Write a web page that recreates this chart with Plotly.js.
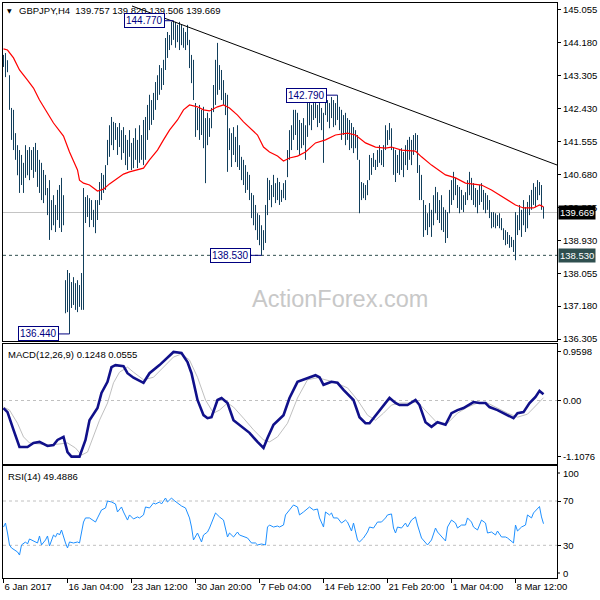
<!DOCTYPE html>
<html><head><meta charset="utf-8">
<script src="https://cdn.plot.ly/plotly-3.0.1.min.js"></script>
<style>html,body{margin:0;padding:0;background:#fff}#chart{width:600px;height:600px}</style>
</head><body><div id="chart"></div>
<script>
// ---------- DATA (GBPJPY H4) ----------
const barHigh = [
143.86,143.91,143.72,143.32,142.45,142.40,141.78,141.46,141.33,141.20,
140.99,141.46,141.33,141.41,141.33,141.41,141.52,141.33,141.07,140.99,
140.80,140.67,140.32,140.53,140.00,140.13,139.87,140.27,140.40,140.59,
140.13,137.87,138.14,138.06,137.82,137.95,137.79,137.87,137.74,138.06,
140.32,140.08,140.13,140.05,140.00,139.74,140.00,140.00,140.48,140.72,
140.67,140.93,141.60,141.99,142.21,142.08,142.05,141.94,142.05,141.86,
141.94,141.73,141.60,141.86,141.52,141.65,141.91,141.60,141.99,141.73,
142.13,142.21,142.53,142.80,142.66,142.85,143.14,143.32,143.59,143.51,
143.73,144.31,144.47,144.39,144.74,144.77,144.74,144.66,144.74,144.66,
144.58,144.47,144.66,144.26,143.86,143.73,142.58,142.45,142.53,142.40,
142.48,142.18,142.32,142.18,142.45,143.06,143.73,144.18,143.59,143.46,
143.19,142.85,142.80,141.91,141.78,141.94,141.68,141.99,141.46,141.15,
141.07,140.93,140.75,140.67,140.19,140.13,139.87,139.65,139.60,139.33,
139.20,139.87,140.59,140.53,140.40,140.67,140.45,140.59,140.48,140.27,
140.45,140.53,141.33,141.86,141.99,142.40,142.40,142.32,142.13,142.05,
142.18,141.99,142.66,142.58,142.53,142.58,142.66,142.53,142.58,142.45,
142.32,142.72,142.66,142.58,142.74,142.66,142.58,142.79,142.48,142.40,
142.26,142.32,142.18,142.13,142.05,141.94,141.86,141.73,141.07,140.48,
140.45,140.40,140.53,141.20,141.12,141.25,141.07,141.33,141.46,141.33,
141.46,141.99,141.86,142.05,141.91,141.41,141.33,141.20,141.33,141.38,
141.28,141.46,141.60,141.68,141.60,141.73,141.78,141.73,140.93,140.67,
140.00,139.87,139.65,139.92,139.74,140.13,140.35,140.21,140.00,140.13,
139.81,139.74,139.68,140.27,140.53,140.75,140.59,140.40,140.35,140.27,
140.13,140.21,140.53,140.75,140.59,140.45,140.32,140.27,140.40,140.45,
140.27,140.19,140.13,140.00,139.68,139.68,139.65,139.60,139.65,139.52,
139.25,139.20,139.15,139.07,139.02,138.94,139.68,139.60,139.87,139.74,
140.00,139.81,139.95,140.13,140.27,140.45,140.35,140.53,140.48,140.40,
139.820];
const barLow = [
143.54,143.27,143.40,142.40,141.60,141.33,141.07,140.66,140.19,140.40,
140.19,140.59,140.66,140.53,140.80,140.59,140.75,140.35,140.19,140.00,
139.92,140.13,139.60,138.94,139.20,139.33,139.15,139.47,139.26,139.15,
139.33,136.99,137.02,136.44,137.13,137.21,137.08,137.02,137.16,137.08,
137.08,139.39,139.55,139.28,139.47,139.28,139.12,139.47,139.87,140.00,
140.19,140.27,140.93,141.15,141.46,141.33,141.60,141.20,141.41,141.07,
141.25,140.93,140.80,141.15,140.80,140.85,141.07,140.85,140.99,141.07,
140.93,141.07,141.60,141.86,142.00,142.13,142.40,142.66,142.80,142.93,
143.06,143.46,143.78,143.99,144.12,144.26,144.05,144.20,143.99,144.12,
144.05,143.99,144.12,143.51,143.11,142.66,141.68,141.86,141.60,141.73,
141.38,140.45,141.46,141.68,141.91,142.34,142.53,142.80,142.93,142.66,
142.53,142.26,140.75,141.33,140.88,141.20,141.01,140.88,140.80,140.53,
140.40,140.19,140.27,140.00,139.52,139.33,139.20,138.94,138.80,138.53,
138.67,138.86,139.60,140.00,139.81,140.08,139.92,140.00,139.87,139.95,
140.05,140.00,140.61,141.07,141.33,141.60,141.73,141.33,141.20,141.38,
141.46,141.07,141.68,141.99,141.86,142.13,142.18,141.94,142.05,141.86,
140.99,142.26,142.08,141.91,142.18,141.94,141.99,142.13,141.86,141.60,
141.73,141.46,141.60,141.33,141.38,141.25,141.38,141.07,139.65,140.00,
140.05,140.00,140.13,140.53,140.67,140.88,140.80,140.88,140.99,140.93,
140.88,141.33,141.46,141.60,141.33,140.67,140.48,140.72,140.67,140.80,
140.61,140.93,140.80,141.07,140.93,141.20,141.33,140.72,140.00,140.00,
139.02,139.20,139.07,139.28,139.02,139.33,139.65,139.47,139.39,139.20,
139.15,138.86,138.99,139.65,139.87,140.00,140.13,139.79,139.65,139.74,
139.68,139.87,140.00,140.13,140.00,139.87,139.81,139.65,139.87,139.95,
139.74,139.65,139.74,139.52,139.25,139.28,139.25,139.31,139.25,139.20,
138.94,138.80,138.83,138.73,138.75,138.62,138.40,139.07,139.20,139.02,
139.33,139.15,139.25,139.60,139.74,139.87,139.81,140.00,140.13,139.74,
139.506];
const lastOHLC = [139.757, 139.820, 139.506, 139.669];

const maIdx = [0,2,5,8,12,15,18,22,25,30,33,37,38,40,43,47,50,53,57,60,63,67,70,73,77,80,83,87,90,93,97,100,103,107,110,113,117,120,123,127,130,133,137,140,143,147,151,156,161,166,172,176,181,186,191,194,199,206,209,214,221,226,231,239,244,251,256,260,265,268,270];
const maVal = [144.02,143.99,143.78,143.46,143.19,142.98,142.66,142.32,142.05,141.70,141.28,140.80,140.53,140.45,140.40,140.24,140.29,140.43,140.59,140.69,140.75,140.80,140.85,141.07,141.33,141.60,141.86,142.13,142.40,142.53,142.48,142.40,142.37,142.48,142.53,142.45,142.26,142.08,141.92,141.73,141.41,141.28,141.17,141.04,141.12,141.17,141.28,141.52,141.60,141.73,141.78,141.73,141.52,141.41,141.38,141.41,141.33,141.30,141.15,140.93,140.67,140.59,140.45,140.40,140.27,140.05,139.87,139.79,139.79,139.87,139.82];

const trendIdx = [64.25, 276.75];
const trendVal = [145.161, 140.933];
const supportLevel = 138.530;

const markIdx = [85, 167, 129, 33];
const markVal = [144.770, 142.790, 138.530, 136.440];
const markShift = [-29, -31, -31, -31];

const macdIdx = [0,2,5,8,12,15,18,22,25,27,30,32,34,38,41,43,47,49,52,54,56,60,62,65,70,73,78,82,85,89,92,94,97,100,102,104,107,109,112,115,118,123,127,130,132,135,140,143,147,152,156,158,160,164,167,170,175,178,181,183,185,189,193,196,198,202,206,208,211,214,217,221,224,227,230,235,238,241,243,247,250,255,257,260,263,266,268,270];
const macdVal = [-0.15,-0.23,-0.58,-0.92,-0.92,-0.84,-0.82,-0.90,-0.88,-0.78,-0.72,-1.02,-1.11,-1.11,-0.78,-0.39,-0.15,0.15,0.37,0.66,0.70,0.68,0.54,0.45,0.35,0.54,0.70,0.86,0.96,0.94,0.76,0.54,0.01,-0.29,-0.35,-0.33,0.01,0.05,-0.05,-0.39,-0.48,-0.64,-0.82,-0.94,-0.74,-0.48,-0.29,0.05,0.37,0.45,0.50,0.46,0.31,0.37,0.35,0.21,0.01,-0.33,-0.45,-0.45,-0.35,-0.15,0.05,-0.05,-0.09,-0.09,0.01,-0.09,-0.43,-0.52,-0.43,-0.48,-0.25,-0.19,-0.15,-0.03,-0.05,-0.05,-0.13,-0.19,-0.25,-0.35,-0.25,-0.23,-0.05,0.07,0.19,0.1248];
const sigIdx = [0,3,7,10,13,18,23,28,32,36,39,42,45,48,52,55,58,62,65,70,75,80,85,89,93,97,101,105,108,112,115,120,125,130,133,137,142,147,150,152,157,165,172,177,182,186,190,194,198,203,207,212,217,222,227,232,237,242,247,252,257,262,265,270];
const sigVal = [-0.13,-0.19,-0.45,-0.72,-0.84,-0.86,-0.88,-0.86,-0.84,-0.94,-1.08,-1.02,-0.72,-0.39,-0.05,0.35,0.56,0.66,0.56,0.41,0.46,0.66,0.86,0.92,0.80,0.46,0.01,-0.25,-0.19,-0.05,-0.13,-0.35,-0.58,-0.78,-0.82,-0.72,-0.45,0.05,0.28,0.41,0.45,0.37,0.25,0.01,-0.29,-0.39,-0.25,-0.09,-0.05,-0.05,-0.03,-0.25,-0.45,-0.45,-0.25,-0.13,-0.05,-0.05,-0.15,-0.25,-0.33,-0.27,-0.15,0.0555];
const macdTicks = [0.9598, 0, -1.1076];
const macdTickText = ['0.9598', '0.00', '-1.1076'];

const rsiIdx = [0,1,2,3,4,6,7,8,9,11,12,13,14,16,17,18,19,21,22,23,25,26,27,28,29,31,32,33,35,37,38,40,41,43,46,47,49,51,52,54,56,57,59,60,62,63,65,67,68,70,71,73,75,76,78,79,81,82,84,85,87,89,91,93,94,95,97,98,99,100,102,103,105,106,108,110,112,113,115,117,118,121,122,124,126,127,129,131,132,133,135,137,138,140,141,143,145,147,148,150,152,153,155,157,158,160,161,163,164,165,167,169,171,172,174,175,177,178,180,182,183,185,187,189,191,192,194,195,196,197,199,201,202,204,206,207,209,211,212,214,216,217,219,221,222,224,226,227,229,231,232,234,235,237,239,241,242,244,246,247,249,251,252,254,255,256,257,259,261,262,264,265,267,268,269,270];
const rsiVal = [46.5,50.1,41.1,30.3,27.6,24.9,24.0,21.2,30.3,33.0,31.2,35.7,34.8,33.0,32.1,38.4,30.3,34.8,38.4,29.4,39.3,37.5,41.1,39.3,43.8,32.1,27.6,33.0,32.1,33.0,32.1,51.0,54.7,54.7,51.0,54.7,61.9,63.7,70.0,69.1,67.3,60.1,64.6,60.1,52.8,57.4,53.8,55.6,54.7,57.4,64.6,63.7,68.2,67.3,69.1,67.3,72.7,69.1,72.7,70.9,68.2,65.5,63.7,54.7,46.5,34.8,41.1,37.5,33.0,39.3,42.0,45.6,54.7,59.2,55.6,52.8,37.5,41.1,37.5,42.0,39.3,37.5,36.6,32.1,32.1,30.3,31.2,30.3,46.5,48.3,46.5,47.4,46.5,48.3,57.4,61.9,66.4,64.6,57.4,60.1,63.7,64.6,61.9,62.8,54.7,46.5,60.1,57.4,59.2,54.7,54.7,50.1,52.8,51.0,42.9,50.1,34.8,33.0,36.6,42.0,46.5,45.6,51.0,51.0,54.7,57.4,58.3,45.6,41.1,46.5,45.6,50.1,46.5,52.8,55.6,48.3,36.6,33.0,30.3,34.8,45.6,42.0,37.5,33.9,46.5,52.8,50.1,45.6,48.3,48.3,54.7,51.0,46.5,43.8,52.8,50.1,41.1,42.0,39.3,42.9,37.5,37.5,36.6,33.0,32.1,48.3,42.9,46.5,48.3,57.4,54.7,59.2,63.7,65.0,55.6,49.4886];
const rsiLevels = [70, 30];

const priceTicks = [145.055,144.180,143.305,142.430,141.555,140.680,139.805,138.930,138.055,137.180,136.305];
const dateTickIdx = [0,32,64,96,128,160,192,224,256];
const dateTickText = ['6 Jan 2017','16 Jan 04:00','23 Jan 12:00','30 Jan 20:00','7 Feb 04:00','14 Feb 12:00','21 Feb 20:00','1 Mar 04:00','8 Mar 12:00'];

// ---------- BUILD ----------
const F = 'Liberation Sans, Arial, sans-serif';
const FS = 9.5;
const P = v => v / 600;          // px -> paper x
const PY = v => 1 - v / 600;     // px -> paper y

const barX = [], barY = [];
barHigh.forEach((h, i) => { barX.push(i, i, null); barY.push(barLow[i], h, null); });

const traces = [
  {type:'scatter', mode:'lines', x:barX, y:barY, xaxis:'x', yaxis:'y', line:{color:'#123f5c', width:1}, hoverinfo:'skip'},
  {type:'scatter', mode:'lines', x:maIdx, y:maVal, xaxis:'x', yaxis:'y', line:{color:'#ff0000', width:1.2}},
  {type:'scatter', mode:'lines', x:trendIdx, y:trendVal, xaxis:'x', yaxis:'y', line:{color:'#000000', width:1}},
  {type:'scatter', mode:'lines', x:sigIdx, y:sigVal, xaxis:'x2', yaxis:'y2', line:{color:'#c0c0c0', width:1}},
  {type:'scatter', mode:'lines', x:macdIdx, y:macdVal, xaxis:'x2', yaxis:'y2', line:{color:'#10108a', width:2.6}},
  {type:'scatter', mode:'lines', x:rsiIdx, y:rsiVal, xaxis:'x3', yaxis:'y3', line:{color:'#1e90ff', width:1}}
];

const XR = [-0.25, 276.75];
const XD = [P(3), P(557)];
const baseX = {domain:XD, range:XR, showline:true, mirror:true, linecolor:'#000', linewidth:1,
  showgrid:false, zeroline:false, showticklabels:false, ticks:''};
const baseY = {side:'right', showline:true, mirror:true, linecolor:'#000', linewidth:1, showgrid:false,
  zeroline:false, ticks:'outside', ticklen:3, tickcolor:'#000', tickwidth:1,
  tickfont:{family:F, size:FS, color:'#000'}};

const layout = {
  width:600, height:600, margin:{l:0, r:0, t:0, b:0},
  paper_bgcolor:'#fff', plot_bgcolor:'#fff', showlegend:false, hovermode:false,
  font:{family:F, size:FS, color:'#000'},
  xaxis: Object.assign({}, baseX, {anchor:'y'}),
  xaxis2: Object.assign({}, baseX, {anchor:'y2', matches:'x'}),
  xaxis3: Object.assign({}, baseX, {anchor:'y3', matches:'x', showticklabels:true, ticks:'outside', ticklen:4,
    tickcolor:'#000', tickvals:dateTickIdx, ticktext:dateTickText, ticklabelposition:'outside right',
    tickangle:0, tickfont:{family:F, size:FS, color:'#000'}}),
  yaxis: Object.assign({}, baseY, {anchor:'x', domain:[PY(341), PY(3)], range:[136.252, 145.241],
    tickvals:priceTicks, ticktext:priceTicks.map(v => v.toFixed(3))}),
  yaxis2: Object.assign({}, baseY, {anchor:'x2', domain:[PY(464), PY(344)], range:[-1.2562, 1.1177],
    tickvals:macdTicks, ticktext:macdTickText}),
  yaxis3: Object.assign({}, baseY, {anchor:'x3', domain:[PY(578), PY(466)], range:[0.47, 101.6],
    tickvals:rsiLevels, ticktext:rsiLevels.map(String)}),
  shapes: [
    {type:'line', xref:'x domain', yref:'y', x0:0, x1:1, y0:lastOHLC[3], y1:lastOHLC[3], layer:'below', line:{color:'#c4c4c4', width:1.2}},
    {type:'line', xref:'x domain', yref:'y', x0:0, x1:1, y0:supportLevel, y1:supportLevel, layer:'below', line:{color:'#2f4f4f', width:1, dash:'3px,3px'}},
    {type:'line', xref:'x2 domain', yref:'y2', x0:0, x1:1, y0:0, y1:0, layer:'below', line:{color:'#c0c0c0', width:1, dash:'3px,3px'}},
    ...rsiLevels.map(v => ({type:'line', xref:'x3 domain', yref:'y3', x0:0, x1:1, y0:v, y1:v, layer:'below', line:{color:'#c0c0c0', width:1, dash:'3px,3px'}})),
    {type:'line', xref:'paper', yref:'paper', x0:P(557), x1:P(560), y0:PY(473), y1:PY(473), line:{color:'#000', width:1}},
    {type:'line', xref:'paper', yref:'paper', x0:P(557), x1:P(560), y0:PY(573), y1:PY(573), line:{color:'#000', width:1}}
  ],
  annotations: [
    {xref:'paper', yref:'paper', x:P(340), y:PY(299), text:'ActionForex.com', showarrow:false,
      font:{family:F, size:23.5, color:'#c8c8c8'}, xanchor:'center', yanchor:'middle'},
    {xref:'paper', yref:'paper', x:P(9), y:PY(10.5), text:'\u25BC', showarrow:false,
      font:{family:'DejaVu Sans', size:6, color:'#000'}, xanchor:'center', yanchor:'middle'},
    {xref:'paper', yref:'paper', x:P(17), y:PY(10.5), showarrow:false, xanchor:'left', yanchor:'middle',
      text:'GBPJPY,H4\u00a0\u00a0' + lastOHLC.map(v => v.toFixed(3)).join(' '), font:{family:F, size:FS, color:'#000'}},
    {xref:'paper', yref:'paper', x:P(6), y:PY(354), showarrow:false, xanchor:'left', yanchor:'middle',
      text:'MACD(12,26,9) ' + macdVal[macdVal.length-1].toFixed(4) + ' ' + sigVal[sigVal.length-1].toFixed(4), font:{family:F, size:FS, color:'#000'}},
    {xref:'paper', yref:'paper', x:P(6), y:PY(476), showarrow:false, xanchor:'left', yanchor:'middle',
      text:'RSI(14) ' + rsiVal[rsiVal.length-1].toFixed(4), font:{family:F, size:FS, color:'#000'}},
    ...markIdx.map((ix, k) => ({xref:'x', yref:'y', x:ix, y:markVal[k], text:markVal[k].toFixed(3),
      showarrow:true, arrowhead:0, arrowwidth:1, arrowcolor:'#000080', standoff:0, ax:markShift[k], ay:0,
      bordercolor:'#000080', borderwidth:1, borderpad:1, bgcolor:'#fff', font:{family:F, size:10, color:'#000080'}})),
    {xref:'paper', yref:'y', x:P(558), y:lastOHLC[3], text:lastOHLC[3].toFixed(3), showarrow:false,
      xanchor:'left', yanchor:'middle', bgcolor:'#000', borderpad:1, font:{family:F, size:FS, color:'#fff'}},
    {xref:'paper', yref:'y', x:P(558), y:supportLevel, text:supportLevel.toFixed(3), showarrow:false,
      xanchor:'left', yanchor:'middle', bgcolor:'#2f4f4f', borderpad:1, font:{family:F, size:FS, color:'#fff'}},
    {xref:'paper', yref:'paper', x:P(561), y:PY(473), text:'100', showarrow:false, xanchor:'left', yanchor:'middle',
      font:{family:F, size:FS, color:'#000'}},
    {xref:'paper', yref:'paper', x:P(561), y:PY(573), text:'0', showarrow:false, xanchor:'left', yanchor:'middle',
      font:{family:F, size:FS, color:'#000'}}
  ]
};

Plotly.newPlot('chart', traces, layout, {staticPlot:true, displayModeBar:false});
</script>
</body></html>
